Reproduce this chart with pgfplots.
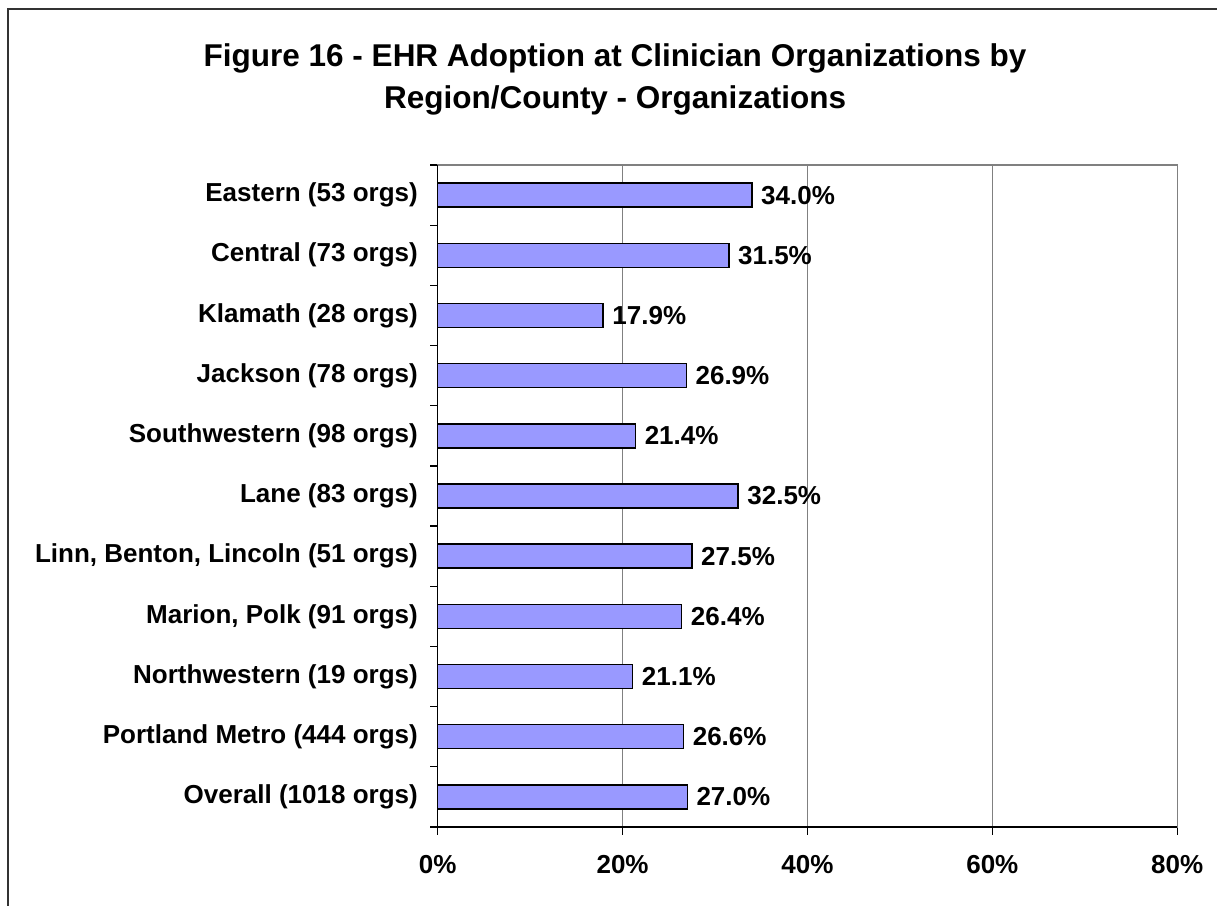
\documentclass[border=0pt]{standalone}
\usepackage{fontspec}
\setmainfont{Liberation Sans}
\usepackage{pgfplots}
\pgfplotsset{compat=1.18}
\pgfplotsset{/pgf/number format/assume math mode=true}
\definecolor{barfill}{HTML}{9999FF}
\definecolor{gridgray}{HTML}{808080}
\begin{document}
\begin{tikzpicture}
\useasboundingbox (0,0) rectangle (1217pt,-905pt);
\draw[line width=2pt, black!80] (8pt,-940pt) -- (8pt,-9pt) -- (1250pt,-9pt);
\node[font=\fontsize{31.5}{36}\selectfont\bfseries, anchor=base] at (615pt,-66pt) {Figure 16 - EHR Adoption at Clinician Organizations by};
\node[font=\fontsize{31.5}{36}\selectfont\bfseries, anchor=base] at (615pt,-108pt) {Region/County - Organizations};
\begin{axis}[
  at={(437.7pt,-165pt)}, anchor=north west,
  scale only axis, width=739.5pt, height=662pt,
  xbar, bar width=24pt,
  xmin=0, xmax=80, ymin=-0.5, ymax=10.5,
  clip=false,
  ytick={0,...,10},
  yticklabels={Overall (1018 orgs),Portland Metro (444 orgs),Northwestern (19 orgs),{Marion, Polk (91 orgs)},{Linn, Benton, Lincoln (51 orgs)},Lane (83 orgs),Southwestern (98 orgs),Jackson (78 orgs),Klamath (28 orgs),Central (73 orgs),Eastern (53 orgs)},
  xtick={0,20,40,60,80},
  xticklabels={0\%,20\%,40\%,60\%,80\%},
  minor xtick={0,20,40,60,80},
  minor ytick={-0.5,0.5,1.5,2.5,3.5,4.5,5.5,6.5,7.5,8.5,9.5,10.5},
  major tick length=0pt, minor tick length=7.5pt,
  tick align=outside,
  xtick pos=left, ytick pos=left,
  xmajorgrids,
  major grid style={gridgray, line width=1.3pt},
  axis line style={gridgray, line width=1.3pt},
  minor tick style={black, line width=1.3pt},
  yticklabel style={font=\fontsize{26}{30}\selectfont\bfseries, anchor=east, inner sep=0pt, xshift=-19.7pt},
  xticklabel style={font=\fontsize{26}{30}\selectfont\bfseries, anchor=base, inner sep=0pt, yshift=-46pt},
  point meta=x,
  nodes near coords={\pgfmathprintnumber[fixed,fixed zerofill,precision=1]{\pgfplotspointmeta}\%},
  nodes near coords style={font=\fontsize{26}{30}\selectfont\bfseries, anchor=west, inner sep=0pt, xshift=8.5pt, text=black},
]
\addplot[fill=barfill, draw=black, line width=1.5pt] coordinates {
  (27.0,0) (26.6,1) (21.1,2) (26.4,3) (27.5,4) (32.5,5) (21.4,6) (26.9,7) (17.9,8) (31.5,9) (34.0,10)
};
\draw[black, line width=1.3pt] (axis cs:0,10.5) -- (axis cs:0,-0.5) -- (axis cs:80,-0.5);
\end{axis}
\end{tikzpicture}
\end{document}
